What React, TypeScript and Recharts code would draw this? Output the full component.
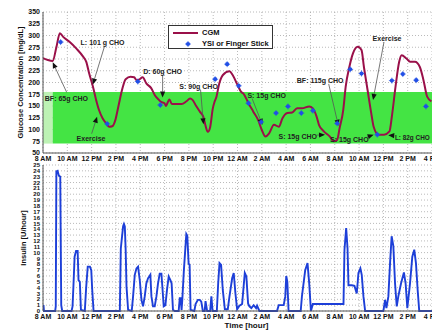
import React from 'react';
import {
  ComposedChart,
  LineChart,
  Line,
  Scatter,
  XAxis,
  YAxis,
  CartesianGrid,
  ReferenceArea,
  ReferenceLine,
  ReferenceDot,
  Legend,
} from 'recharts';

// time axis runs from 8 AM day 1 (8) to 4 PM day 2 (40)
const hourTicks = [8, 10, 12, 14, 16, 18, 20, 22, 24, 26, 28, 30, 32, 34, 36, 38, 40];
const glucoseTicks = [50, 75, 100, 125, 150, 175, 200, 225, 250, 275, 300, 325, 350];
const insulinTicks = Array.from({ length: 26 }, (_, i) => i);

const cgmTime = [
  8.0, 8.4, 8.8, 9.1, 9.39, 9.66, 10.2, 10.75, 11.3, 11.56, 11.8, 12.1, 12.37, 12.6, 12.9, 13.2,
  13.45, 13.7, 13.95, 14.2, 14.5, 14.8, 15.2, 15.5, 15.7, 15.9, 16.2, 16.5, 16.9, 17.2, 17.5, 17.7,
  18.0, 18.1, 18.4, 18.6, 19.0, 19.4, 19.8, 20.1, 20.3, 20.6, 20.9, 21.2, 21.35, 21.56, 21.75, 21.97,
  22.1, 22.25, 22.5, 22.8, 23.34, 23.6, 24.0, 24.3, 24.5, 24.9, 25.3, 25.7, 26.0, 26.3, 26.6, 27.0,
  27.4, 27.7, 28.1, 28.5, 28.9, 29.3, 29.9, 30.2, 30.5, 30.7, 31.1, 31.6, 31.9, 32.2, 32.4, 32.7,
  32.9, 33.2, 33.5, 33.9, 34.2, 34.4, 34.7, 35.0, 35.2, 35.6, 36.05, 36.5, 36.7, 37.0, 37.3, 37.5,
  37.9, 38.2, 38.6, 39.0, 39.3, 39.6, 39.95,
];
const cgmValue = [
  252, 248, 246, 275, 305, 297, 286, 272, 255, 244, 219, 192, 163, 142, 124, 113,
  106, 107, 120, 149, 184, 207, 212, 211, 205, 206, 211, 198, 188, 173, 164, 159,
  156, 150, 164, 154, 154, 154, 160, 166, 163, 150, 138, 126, 110, 95, 105, 145,
  158, 168, 198, 216, 224, 216, 195, 180, 176, 156, 138, 120, 99, 85, 92, 110,
  106, 124, 135, 136, 145, 145, 149, 145, 128, 110, 96, 85, 75, 78, 103, 142,
  191, 233, 262, 276, 269, 233, 184, 135, 106, 89, 89, 96, 128, 191, 244, 258,
  251, 244, 244, 233, 205, 170, 160,
];

const ysiTime = [9.45, 13.28, 15.8, 17.65, 22.16, 23.15, 24.1, 24.9, 25.95, 27.17, 28.15, 29.25, 30.2, 32.2, 33.27, 34.2, 35.5, 36.7, 37.6, 38.7, 39.5];
const ysiValue = [286, 112, 202, 152, 207, 239, 193, 156, 116, 135, 149, 135, 140, 113, 228, 219, 89, 204, 218, 205, 149];

const insulinTime = [
  8.0, 8.04, 8.08, 9.0, 9.05, 9.1, 9.2, 9.3, 9.42, 9.5, 9.58, 10.35, 10.43, 10.5, 10.6, 10.72,
  10.85, 10.92, 11.03, 11.12, 11.44, 11.55, 11.68, 11.86, 11.97, 12.05, 12.16, 14.32, 14.4, 14.59,
  14.66, 14.73, 14.8, 14.87, 15.0, 15.3, 15.41, 15.55, 15.69, 15.82, 15.96, 16.1, 16.23, 16.37,
  16.5, 16.64, 16.83, 16.92, 17.05, 17.19, 17.33, 17.46, 17.6, 17.74, 17.82, 17.93, 18.07, 18.2,
  18.34, 18.48, 18.58, 18.69, 18.83, 19.16, 19.25, 19.32, 19.4, 19.46, 19.59, 19.79, 19.87, 19.98,
  20.06, 20.14, 20.45, 20.55, 20.74, 20.9, 21.02, 21.15, 21.3, 21.37, 21.5, 21.75, 21.85, 21.95,
  22.3, 22.41, 22.52, 22.65, 22.79, 22.96, 23.2, 23.34, 23.56, 23.69, 23.83, 23.97, 24.16, 24.38,
  24.6, 24.73, 24.87, 24.98, 25.14, 25.33, 25.53, 25.61, 25.8, 27.25, 27.39, 27.8, 27.93, 28.01,
  28.1, 28.2, 29.2, 29.3, 29.57, 29.76, 29.9, 30.04, 30.2, 32.72, 32.8, 32.94, 33.05, 33.13, 33.4,
  33.62, 33.81, 33.95, 34.11, 34.22, 34.36, 34.5, 36.0, 36.14, 36.25, 36.41, 36.55, 36.68, 36.82,
  36.96, 37.1, 37.23, 37.45, 37.69, 37.83, 37.97, 38.19, 38.38, 38.54, 38.68, 38.82, 38.95, 40.0,
];
const insulinRate = [
  0.8, 1.0, 0, 0, 0.8, 23.9, 24, 23.2, 23, 1, 0, 0, 0.8, 4.1, 9.3, 10.3,
  10.3, 5.3, 5, 0.2, 0, 4, 7.6, 7.6, 7, 3.6, 0, 0, 10.7, 14.5,
  14.9, 14.5, 10.5, 4.2, 0.2, 0, 2.5, 6.2, 7.3, 7.6, 5.3, 1.9, 0.8, 2.5,
  4.7, 5.6, 6.2, 2.5, 0.8, 0.8, 2.5, 4.7, 6.4, 6.4, 4.1, 0.8, 1.0, 3.6,
  5.9, 5.3, 4.7, 0.2, 0, 0, 2.2, 2.2, 0.2, 2, 7, 13.2, 12.9, 8.1,
  7.9, 0.2, 0, 1.2, 1.9, 1.9, 1.6, 0, 0, 1.7, 0, 0, 2.5, 0,
  0, 4.7, 8.2, 7.9, 3.6, 0.3, 0.3, 2.5, 5.6, 6.5, 3, 0.3, 0.9, 1.2,
  6.5, 5.9, 1.3, 0.8, 0.5, 1.0, 0.5, 0.9, 0, 0, 1, 1, 2.5, 6,
  5, 0, 0, 2.5, 7, 8.2, 4.7, 0, 1.2, 1.2, 10.5, 14.2, 10.8, 4.4, 4.4,
  4.3, 3.0, 6.5, 7.3, 6.2, 2.5, 0, 0, 1.9, 0.5, 2.5, 8.2, 12.8, 11.1,
  4.7, 0.8, 2.5, 4.7, 6.6, 4.7, 0.5, 4.7, 9.3, 10.5, 8.2, 3.6, 0, 0,
];

// meal / exercise annotations, in (hour, mg/dL)
const noteText = ['L: 101 g CHO', 'BF: 65g CHO', 'Exercise', 'D: 60g CHO', 'S: 90g CHO', 'S: 15g CHO', 'S: 15g CHO', 'BF: 115g CHO', 'S: 15g CHO', 'Exercise', 'L: 82g CHO'];
const noteAt = [[12.9, 286], [8.15, 167], [11.95, 80], [17.84, 224], [20.8, 192], [26.4, 173], [28.96, 86], [30.8, 205], [33.2, 78], [36.3, 294], [36.95, 84]];
const noteAnchor = ['middle', 'start', 'middle', 'middle', 'middle', 'middle', 'middle', 'middle', 'middle', 'middle', 'start'];
const noteSize = [7, 7, 7, 7, 7, 7, 7, 7, 7, 7, 6.4];
const arrowFrom = [[13.05, 276], [9.95, 179], [12.0, 91], [17.84, 216], [20.96, 185], [25.2, 166], [30.5, 88], [31.5, 197], [34.65, 84], [36.05, 286], [36.9, 87]];
const arrowTo = [[12.1, 196], [8.8, 243], [12.45, 127], [17.84, 168], [21.2, 111], [26.05, 110], [31.2, 89], [32.3, 108], [35.2, 89], [35.15, 163], [36.4, 88]];

const cgm = cgmTime.map((h, i) => ({ h, g: cgmValue[i] }));
const ysi = ysiTime.map((h, i) => ({ h, g: ysiValue[i] }));
const insulin = insulinTime.map((h, i) => ({ h, u: insulinRate[i] }));

const FONT = '"Liberation Sans", Arial, sans-serif';
const RED = '#9a1049';
const BLUE = '#1d3fd8';
const DOT = '#2350e6';

const fmtHour = (v: number) => {
  const hh = v % 24;
  const d = hh % 12 === 0 ? 12 : hh % 12;
  return `${d} ${hh < 12 ? 'AM' : 'PM'}`;
};

const tickStyle = { fontSize: 7, fontWeight: 700, fill: '#111', fontFamily: FONT };

const Star = (props: any) => {
  const { cx, cy } = props;
  if (cx == null || cy == null) return null;
  return (
    <g>
      <circle cx={cx} cy={cy} r={2.1} fill={DOT} />
      <path d={`M${cx - 3} ${cy}H${cx + 3}M${cx} ${cy - 3}V${cy + 3}`} stroke={DOT} strokeWidth={0.7} />
    </g>
  );
};

const Arrow = (props: any) => {
  const { x1, y1, x2, y2 } = props;
  const a = Math.atan2(y2 - y1, x2 - x1);
  const bx = x2 - 6 * Math.cos(a);
  const by = y2 - 6 * Math.sin(a);
  const px = -Math.sin(a) * 2.6;
  const py = Math.cos(a) * 2.6;
  return (
    <g>
      <line x1={x1} y1={y1} x2={bx} y2={by} stroke="#555" strokeWidth={0.8} />
      <polygon points={`${x2},${y2} ${bx + px},${by + py} ${bx - px},${by - py}`} fill="#111" />
    </g>
  );
};

const noteShape = (i: number) => (p: any) => (
  <text x={p.cx} y={p.cy} textAnchor={noteAnchor[i] as any} dominantBaseline="central"
    fontSize={noteSize[i]} fontWeight={700} fill="#222" fontFamily={FONT}>
    {noteText[i]}
  </text>
);

const LegendBox = () => (
  <div style={{ width: 105, height: 24, boxSizing: 'border-box', border: '1px solid #333', background: '#fff', fontFamily: FONT, fontSize: 7.5, fontWeight: 700, color: '#111' }}>
    <div style={{ display: 'flex', alignItems: 'center', height: 11, marginTop: 1 }}>
      <svg width={33} height={10}><line x1={4} y1={5} x2={29} y2={5} stroke={RED} strokeWidth={2} /></svg>
      <span>CGM</span>
    </div>
    <div style={{ display: 'flex', alignItems: 'center', height: 11 }}>
      <svg width={33} height={10}><Star cx={19} cy={5} /></svg>
      <span>YSI or Finger Stick</span>
    </div>
  </div>
);

const yLabel = (text: string, x: number) => (p: any) => {
  const vb = p.viewBox;
  const cy = vb.y + vb.height / 2;
  return (
    <text x={x} y={cy} transform={`rotate(-90 ${x} ${cy})`} textAnchor="middle" dominantBaseline="central"
      fontSize={7.5} fontWeight={700} fill="#111" fontFamily={FONT}>
      {text}
    </text>
  );
};

export default function App() {
  return (
    <div style={{ position: 'absolute', left: 0, top: 0, width: 432, height: 330, background: '#fff', overflow: 'hidden' }}>
      <div style={{ position: 'absolute', left: 0, top: 0 }}>
        <ComposedChart width={432} height={166} margin={{ top: 12, right: 0, bottom: 0, left: 0 }}>
          <CartesianGrid stroke="#9c9c9c" strokeDasharray="1 2" strokeWidth={0.7} />
          <ReferenceArea x1={8} x2={8.8} y1={70} y2={180} fill="#bdf2b4" fillOpacity={1} stroke="none" />
          <ReferenceArea x1={8.8} x2={40} y1={70} y2={180} fill="#44e444" fillOpacity={1} stroke="none" />
          <XAxis type="number" dataKey="h" domain={[8, 40]} ticks={hourTicks} tickFormatter={fmtHour}
            interval={0} height={13} tick={tickStyle} tickLine={false} tickSize={2} tickMargin={1}
            axisLine={{ stroke: '#555' }} allowDataOverflow />
          <YAxis type="number" domain={[50, 350]} ticks={glucoseTicks} interval={0} width={43}
            tick={tickStyle} tickLine={false} tickSize={2} tickMargin={1} axisLine={{ stroke: '#555' }}
            label={yLabel('Glucose Concentration [mg/dL]', 20)} />
          <Line data={cgm} dataKey="g" type="monotone" stroke={RED} strokeWidth={2} dot={false} isAnimationActive={false} />
          <Scatter data={ysi} dataKey="g" fill={DOT} shape={Star} isAnimationActive={false} />
          {noteText.map((t, i) => (
            <ReferenceLine key={`a${i}`} segment={[{ x: arrowFrom[i][0], y: arrowFrom[i][1] }, { x: arrowTo[i][0], y: arrowTo[i][1] }]} shape={Arrow} />
          ))}
          {noteText.map((t, i) => (
            <ReferenceDot key={`t${i}`} x={noteAt[i][0]} y={noteAt[i][1]} r={1} shape={noteShape(i)} />
          ))}
          <Legend layout="horizontal" verticalAlign="middle" align="center" content={() => <LegendBox />}
            wrapperStyle={{ left: 168, top: 25, width: 105, height: 24 }} />
        </ComposedChart>
      </div>
      <div style={{ position: 'absolute', left: 0, top: 160 }}>
        <LineChart width={432} height={170} data={insulin} margin={{ top: 5, right: 0, bottom: 0, left: 0 }}>
          <CartesianGrid stroke="#9c9c9c" strokeDasharray="1 2" strokeWidth={0.7} />
          <XAxis type="number" dataKey="h" domain={[8, 40]} ticks={hourTicks} tickFormatter={fmtHour}
            interval={0} height={19} tick={tickStyle} tickLine={false} tickSize={2} tickMargin={1}
            axisLine={{ stroke: '#555' }} allowDataOverflow
            label={{ value: 'Time [hour]', position: 'insideBottom', offset: 2, dx: 9, fontSize: 8, fontWeight: 700, fill: '#111', fontFamily: FONT }} />
          <YAxis type="number" domain={[0, 25]} ticks={insulinTicks} interval={0} width={43}
            tick={{ ...tickStyle, fontSize: 6 }} tickLine={false} tickSize={2} tickMargin={1}
            axisLine={{ stroke: '#555' }} label={yLabel('Insulin [U/hour]', 23)} />
          <Line dataKey="u" type="linear" stroke={BLUE} strokeWidth={1.9} dot={false} isAnimationActive={false} />
        </LineChart>
      </div>
    </div>
  );
}
